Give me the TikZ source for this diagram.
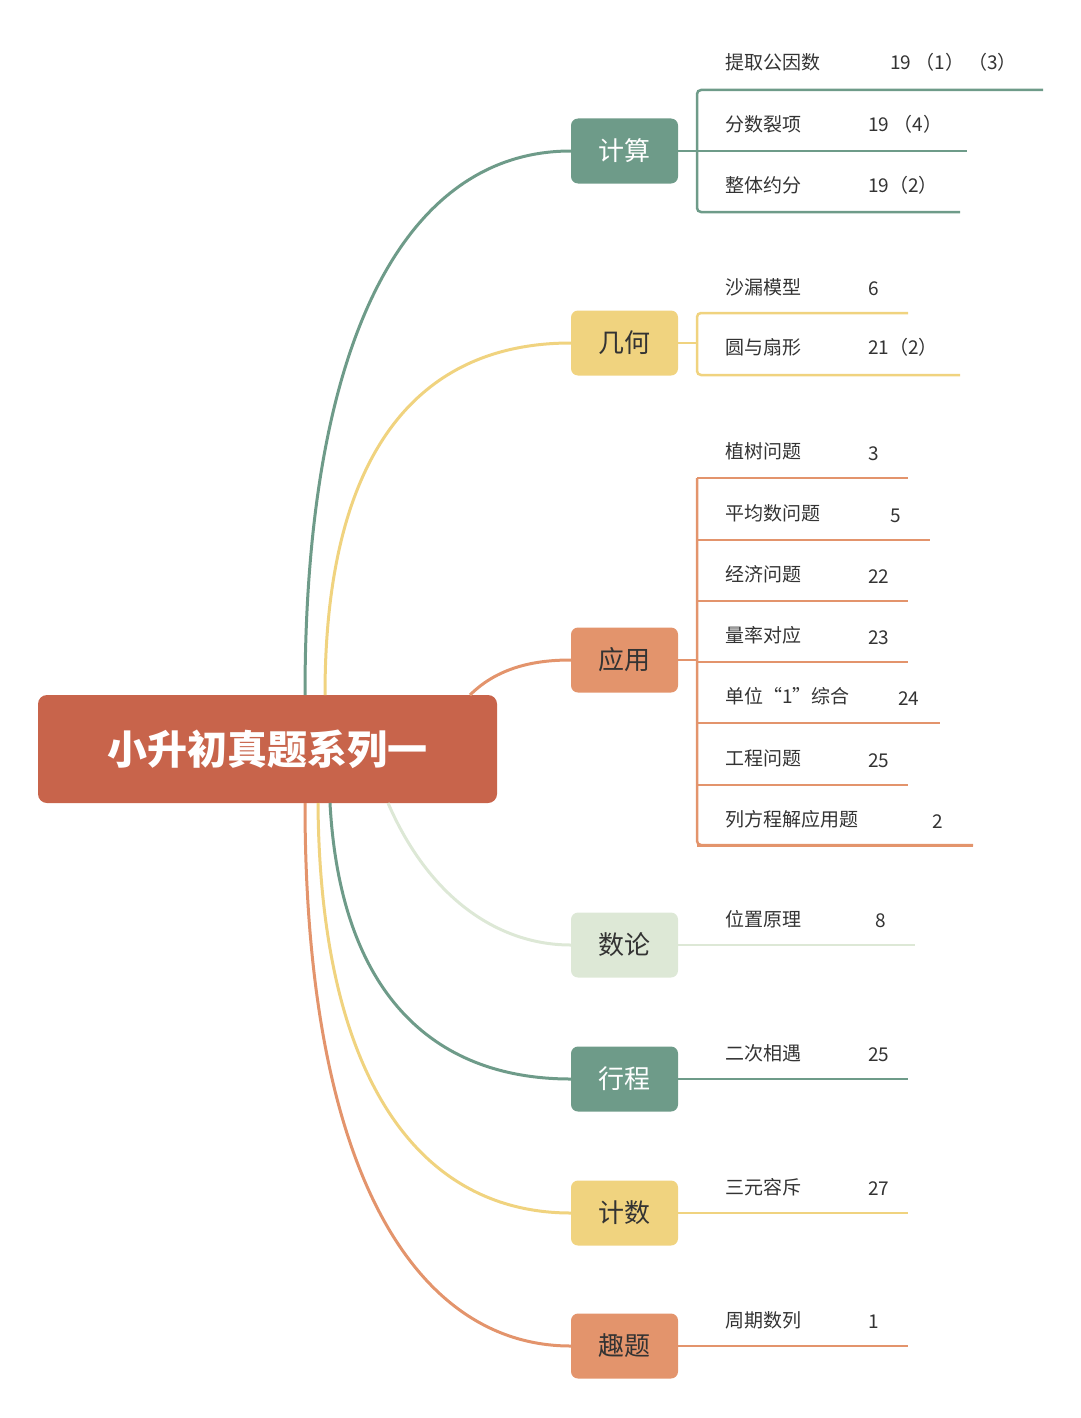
\documentclass[tikz,border=0pt]{standalone}
\usepackage{fontspec}
\setmainfont{Noto Sans CJK SC}
\usetikzlibrary{positioning}
\definecolor{cgreen}{HTML}{6E9B89}
\definecolor{cyellow}{HTML}{F0D37F}
\definecolor{corange}{HTML}{E3946C}
\definecolor{cmint}{HTML}{DDE8D6}
\definecolor{croot}{HTML}{C8644B}
\definecolor{ctext}{HTML}{333333}
\begin{document}
\begin{tikzpicture}[x=1pt,y=-1pt]
% -------------------------------------------------
\tikzset{
  root/.style={fill=croot, rounded corners=9pt, minimum width=459pt, minimum height=108pt,
    text=white, font=\fontsize{40}{44}\selectfont\bfseries},
  topic/.style={fill=#1, rounded corners=7pt, minimum width=107pt, minimum height=65pt,
    font=\fontsize{26}{30}\selectfont},
  leaf/.style={anchor=west, inner sep=0pt, text=ctext, font=\fontsize{19}{22}\selectfont},
  branch/.style={draw=#1, line width=3pt},
  uline/.style={draw=#1, line width=2.5pt, rounded corners=4pt}
}
\useasboundingbox (0,0) rectangle (1080,1418);
% -------------------------------------------------
% Placing the nodes
\node [root] (main) at (267.5,749) {小升初真题系列一};
\node [topic=cgreen, text=white] (calc) at (624.5,151) {计算};
\node [topic=cyellow, text=ctext] (geo) at (624.5,343) {几何};
\node [topic=corange, text=ctext] (app) at (624.5,660) {应用};
\node [topic=cmint, text=ctext] (num) at (624.5,945) {数论};
\node [topic=cgreen, text=white] (trip) at (624.5,1079) {行程};
\node [topic=cyellow, text=ctext] (count) at (624.5,1213) {计数};
\node [topic=corange, text=ctext] (fun) at (624.5,1346) {趣题};

% branches from the root
\path [branch=cgreen] (305,695) .. controls (305,330) and (410,151) .. (calc.west);
\path [branch=cyellow] (325,695) .. controls (325,450) and (420,343) .. (geo.west);
\path [branch=corange] (470,695) .. controls (500,665) and (540,660) .. (app.west);
\path [branch=cmint] (388,803) .. controls (430,900) and (500,945) .. (num.west);
\path [branch=cgreen] (330,803) .. controls (340,990) and (430,1079) .. (trip.west);
\path [branch=cyellow] (318,803) .. controls (320,1080) and (420,1213) .. (count.west);
\path [branch=corange] (305,803) .. controls (305,1180) and (420,1346) .. (fun.west);

% 计算
\node [leaf] (c1) at (725,62) {提取公因数};
\node [leaf] at (890,62) {19 （1） （3）};
\node [leaf] (c2) at (725,124) {分数裂项};
\node [leaf] at (868,124) {19 （4）};
\node [leaf] (c3) at (725,185) {整体约分};
\node [leaf] at (868,185) {19（2）};
\path [uline=cgreen] (1043,90) -- (697,90) -- (697,212) -- (960,212);
\path [uline=cgreen] (697,151) -- (967,151);
\path [uline=cgreen] (calc.east) -- (697,151);

% 几何
\node [leaf] (g1) at (725,287) {沙漏模型};
\node [leaf] at (868,289) {6};
\node [leaf] (g2) at (725,347) {圆与扇形};
\node [leaf] at (868,347) {21（2）};
\path [uline=cyellow] (908,313) -- (697,313) -- (697,375) -- (960,375);
\path [uline=cyellow] (geo.east) -- (697,343);

% 应用
\foreach \t/\n/\nx/\ty/\ux in {植树问题/3/868/451/908, 平均数问题/5/890/513/930,
    经济问题/22/868/574/908, 量率对应/23/868/635/908, 单位“1”综合/24/898/696/940,
    工程问题/25/868/758/908, 列方程解应用题/2/932/819/973}{
  \node [leaf] at (725,\ty) {\t};
  \node [leaf] at (\nx,\ty+3) {\n};
  \path [uline=corange] (697,\ty+27) -- (\ux,\ty+27);
}
\path [uline=corange] (697,478) -- (697,845) -- (973,845);
\path [uline=corange] (app.east) -- (697,660);

% single leaves
\node [leaf] (n1) at (725,919) {位置原理};
\node [leaf] at (875,921) {8};
\path [uline=cmint] (num.east) -- (915,945);
\node [leaf] (t1) at (725,1053) {二次相遇};
\node [leaf] at (868,1055) {25};
\path [uline=cgreen] (trip.east) -- (908,1079);
\node [leaf] (k1) at (725,1187) {三元容斥};
\node [leaf] at (868,1189) {27};
\path [uline=cyellow] (count.east) -- (908,1213);
\node [leaf] (f1) at (725,1320) {周期数列};
\node [leaf] at (868,1322) {1};
\path [uline=corange] (fun.east) -- (908,1346);
\end{tikzpicture}
\end{document}
